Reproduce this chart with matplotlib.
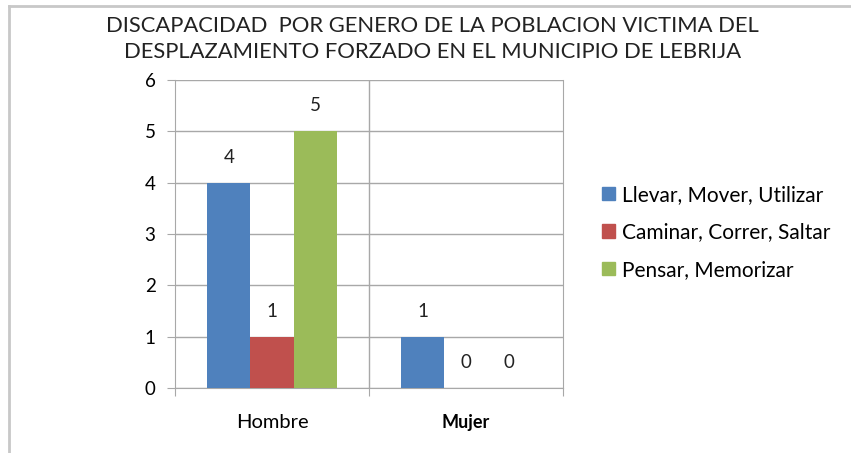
import matplotlib
matplotlib.use("Agg")
import matplotlib.pyplot as plt
import numpy as np
from matplotlib.lines import Line2D

categories = ["Hombre", "Mujer"]
series_names = ["Llevar, Mover, Utilizar", "Caminar, Correr, Saltar", "Pensar, Memorizar"]
series_values = [[4, 1], [1, 0], [5, 0]]
colors = ["#4F81BD", "#C0504D", "#9BBB59"]
title = "DISCAPACIDAD  POR GENERO DE LA POBLACION VICTIMA DEL\nDESPLAZAMIENTO FORZADO EN EL MUNICIPIO DE LEBRIJA"

plt.rcParams['font.family'] = ['Lato', 'DejaVu Sans']

fig = plt.figure(figsize=(8.51, 4.53), dpi=100)
ax = fig.add_axes([175/851, 1-388/453, (563-175)/851, (388-80)/453])

x = np.arange(len(categories))
w = 0.222
for i, (name, vals, c) in enumerate(zip(series_names, series_values, colors)):
    pos = x + (i - 1) * w
    ax.bar(pos, vals, width=w, color=c, label=name, zorder=3)
    for p, v in zip(pos, vals):
        ax.text(p, v + 0.33, str(v), ha='center', va='bottom', fontsize=13.5, color='#222222')

ax.set_xlim(-0.5, 1.5)
ax.set_ylim(0, 6)
ax.set_yticks(range(0, 7))
ax.yaxis.grid(True, color='#a8a8a8', linewidth=1, zorder=0)
ax.axvline(0.5, color='#a8a8a8', linewidth=1, zorder=0)
ax.spines['top'].set_visible(False)
ax.spines['right'].set_color('#a8a8a8')
ax.spines['left'].set_color('#a8a8a8')
ax.spines['bottom'].set_color('#a8a8a8')
ax.set_xticks([-0.5, 0.5, 1.5], minor=False)
ax.set_xticklabels([])
ax.tick_params(axis='x', length=6, color='#a8a8a8')
ax.set_xticks(x, minor=True)
ax.set_xticklabels(categories, minor=True)
ax.tick_params(axis='x', which='minor', length=0, pad=19, labelsize=14.5)
for lbl in ax.get_xticklabels(minor=True):
    if lbl.get_text() == "Mujer":
        lbl.set_fontweight('bold')
        lbl.set_fontsize(13)
ax.tick_params(axis='y', length=6, color='#a8a8a8', labelsize=13.5, pad=8)

fig.text(0.508, 0.965, title, ha='center', va='top', fontsize=15.8, linespacing=1.38, color='#222222')

handles = [plt.Rectangle((0, 0), 1, 1, color=c) for c in colors]
fig.legend(handles, series_names, loc='center left', bbox_to_anchor=(0.698, 0.487),
           frameon=False, fontsize=15, handlelength=0.6, handleheight=0.6,
           handletextpad=0.35, labelspacing=0.85, borderaxespad=0)

fig.add_artist(Line2D([9/851, 9/851], [0, 1-6/453], transform=fig.transFigure, color='#c8c8c8', lw=2))
fig.add_artist(Line2D([9/851, 1], [1-6/453, 1-6/453], transform=fig.transFigure, color='#c8c8c8', lw=2))

fig.savefig("out.png", dpi=100)
